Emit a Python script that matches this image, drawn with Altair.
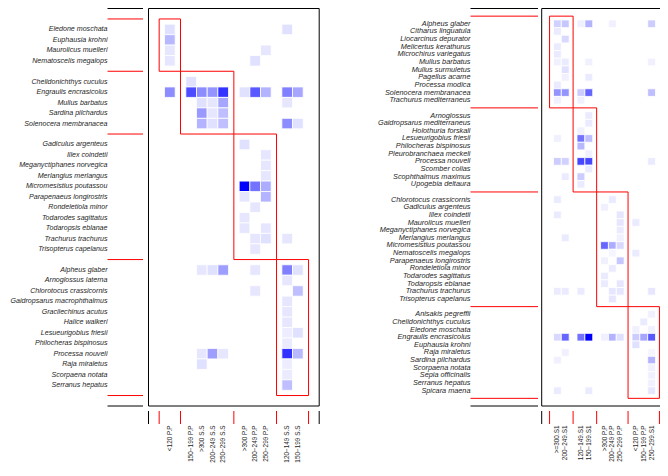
import altair as alt
import pandas as pd

# ---------------- data ----------------
left_row_groups = [
    ["Eledone moschata", "Euphausia krohni", "Maurolicus muelleri", "Nematoscelis megalops"],
    ["Chelidonichthys cuculus", "Engraulis encrasicolus", "Mullus barbatus", "Sardina pilchardus",
     "Solenocera membranacea"],
    ["Gadiculus argenteus", "Illex coindetii", "Meganyctiphanes norvegica", "Merlangius merlangus",
     "Micromesistius poutassou", "Parapenaeus longirostris", "Rondeletiola minor", "Todarodes sagittatus",
     "Todaropsis eblanae", "Trachurus trachurus", "Trisopterus capelanus"],
    ["Alpheus glaber", "Arnoglossus laterna", "Chlorotocus crassicornis", "Gaidropsarus macrophthalmus",
     "Gracilechinus acutus", "Halice walkeri", "Lesueurigobius friesii", "Philocheras bispinosus",
     "Processa nouveli", "Raja miraletus", "Scorpaena notata", "Serranus hepatus"],
]
left_col_groups = [
    ["<120 P.P"],
    ["150−199 P.P", ">300 S.S", "200−249 S.S", "250−299 S.S"],
    [">300 P.P", "200−249 P.P", "250−299 P.P"],
    ["120−149 S.S", "150−199 S.S"],
]
left_cells = [
    ("Eledone moschata", "<120 P.P", 0.12), ("Eledone moschata", "120−149 S.S", 0.12),
    ("Euphausia krohni", "<120 P.P", 0.28),
    ("Maurolicus muelleri", "<120 P.P", 0.1), ("Maurolicus muelleri", "250−299 P.P", 0.1),
    ("Nematoscelis megalops", "<120 P.P", 0.1), ("Nematoscelis megalops", "200−249 P.P", 0.12),
    ("Chelidonichthys cuculus", "150−199 P.P", 0.12),
    ("Engraulis encrasicolus", "<120 P.P", 0.45), ("Engraulis encrasicolus", "150−199 P.P", 0.7),
    ("Engraulis encrasicolus", ">300 S.S", 0.45), ("Engraulis encrasicolus", "200−249 S.S", 0.42),
    ("Engraulis encrasicolus", "250−299 S.S", 0.8), ("Engraulis encrasicolus", ">300 P.P", 0.12),
    ("Engraulis encrasicolus", "200−249 P.P", 0.65), ("Engraulis encrasicolus", "250−299 P.P", 0.3),
    ("Engraulis encrasicolus", "120−149 S.S", 0.5), ("Engraulis encrasicolus", "150−199 S.S", 0.35),
    ("Mullus barbatus", ">300 S.S", 0.12), ("Mullus barbatus", "200−249 S.S", 0.1),
    ("Mullus barbatus", "250−299 S.S", 0.35), ("Mullus barbatus", "120−149 S.S", 0.1),
    ("Sardina pilchardus", ">300 S.S", 0.4), ("Sardina pilchardus", "200−249 S.S", 0.1),
    ("Sardina pilchardus", "250−299 S.S", 0.25),
    ("Solenocera membranacea", ">300 S.S", 0.3), ("Solenocera membranacea", "200−249 S.S", 0.12),
    ("Solenocera membranacea", "250−299 S.S", 0.25), ("Solenocera membranacea", "120−149 S.S", 0.45),
    ("Solenocera membranacea", "150−199 S.S", 0.12),
    ("Gadiculus argenteus", ">300 P.P", 0.12),
    ("Illex coindetii", "250−299 P.P", 0.1),
    ("Meganyctiphanes norvegica", "250−299 P.P", 0.1),
    ("Merlangius merlangus", "250−299 P.P", 0.1),
    ("Micromesistius poutassou", ">300 P.P", 1.0), ("Micromesistius poutassou", "200−249 P.P", 0.55),
    ("Micromesistius poutassou", "250−299 P.P", 0.32),
    ("Parapenaeus longirostris", ">300 P.P", 0.1), ("Parapenaeus longirostris", "250−299 P.P", 0.3),
    ("Rondeletiola minor", "200−249 P.P", 0.1),
    ("Todarodes sagittatus", ">300 P.P", 0.1),
    ("Todaropsis eblanae", ">300 P.P", 0.1), ("Todaropsis eblanae", "250−299 P.P", 0.1),
    ("Trachurus trachurus", "200−249 P.P", 0.1), ("Trachurus trachurus", "250−299 P.P", 0.12),
    ("Trachurus trachurus", "120−149 S.S", 0.1),
    ("Trisopterus capelanus", "200−249 P.P", 0.1),
    ("Alpheus glaber", ">300 S.S", 0.1), ("Alpheus glaber", "200−249 S.S", 0.12),
    ("Alpheus glaber", "250−299 S.S", 0.38), ("Alpheus glaber", "200−249 P.P", 0.1),
    ("Alpheus glaber", "120−149 S.S", 0.5), ("Alpheus glaber", "150−199 S.S", 0.12),
    ("Arnoglossus laterna", "120−149 S.S", 0.1),
    ("Chlorotocus crassicornis", "200−249 P.P", 0.1), ("Chlorotocus crassicornis", "150−199 S.S", 0.25),
    ("Gaidropsarus macrophthalmus", "120−149 S.S", 0.1),
    ("Gracilechinus acutus", "120−149 S.S", 0.1),
    ("Halice walkeri", "120−149 S.S", 0.1),
    ("Lesueurigobius friesii", "120−149 S.S", 0.07), ("Lesueurigobius friesii", "150−199 S.S", 0.12),
    ("Philocheras bispinosus", "120−149 S.S", 0.08),
    ("Processa nouveli", ">300 S.S", 0.1), ("Processa nouveli", "200−249 S.S", 0.38),
    ("Processa nouveli", "250−299 S.S", 0.1), ("Processa nouveli", "120−149 S.S", 0.8),
    ("Processa nouveli", "150−199 S.S", 0.28),
    ("Raja miraletus", ">300 S.S", 0.12), ("Raja miraletus", "120−149 S.S", 0.07),
    ("Scorpaena notata", "120−149 S.S", 0.08),
    ("Serranus hepatus", "120−149 S.S", 0.25),
]

right_row_groups = [
    ["Alpheus glaber", "Citharus linguatula", "Liocarcinus depurator", "Melicertus kerathurus",
     "Microchirus variegatus", "Mullus barbatus", "Mullus surmuletus", "Pagellus acarne", "Processa modica",
     "Solenocera membranacea", "Trachurus mediterraneus"],
    ["Arnoglossus", "Gaidropsarus mediterraneus", "Holothuria forskali", "Lesueurigobius friesii",
     "Philocheras bispinosus", "Pleurobranchaea meckeli", "Processa nouveli", "Scomber colias",
     "Scophthalmus maximus", "Upogebia deltaura"],
    ["Chlorotocus crassicornis", "Gadiculus argenteus", "Illex coindetii", "Maurolicus muelleri",
     "Meganyctiphanes norvegica", "Merlangius merlangus", "Micromesistius poutassou", "Nematoscelis megalops",
     "Parapenaeus longirostris", "Rondeletiola minor", "Todarodes sagittatus", "Todaropsis eblanae",
     "Trachurus trachurus", "Trisopterus capelanus"],
    ["Anisakis pegreffii", "Chelidonichthys cuculus", "Eledone moschata", "Engraulis encrasicolus",
     "Euphausia krohni", "Raja miraletus", "Sardina pilchardus", "Scorpaena notata", "Sepia officinalis",
     "Serranus hepatus", "Spicara maena"],
]
right_col_groups = [
    [">=300.S1", "200−249.S1"],
    ["120−149.S1", "150−199.S1"],
    [">300 P.P", "200−249 P.P", "250−299 P.P"],
    ["<120 P.P", "150−199 P.P", "250−299.S1"],
]
right_cells = [
    ("Alpheus glaber", ">=300.S1", 0.18), ("Alpheus glaber", "200−249.S1", 0.22),
    ("Alpheus glaber", "120−149.S1", 0.06), ("Alpheus glaber", "150−199.S1", 0.3),
    ("Alpheus glaber", "200−249 P.P", 0.06), ("Alpheus glaber", "250−299.S1", 0.2),
    ("Citharus linguatula", ">=300.S1", 0.08),
    ("Liocarcinus depurator", "200−249.S1", 0.15),
    ("Melicertus kerathurus", ">=300.S1", 0.08),
    ("Microchirus variegatus", ">=300.S1", 0.08),
    ("Mullus barbatus", ">=300.S1", 0.06), ("Mullus barbatus", "200−249.S1", 0.08),
    ("Mullus barbatus", "150−199.S1", 0.06), ("Mullus barbatus", "250−299.S1", 0.06),
    ("Mullus surmuletus", "200−249.S1", 0.12),
    ("Pagellus acarne", "200−249.S1", 0.06), ("Pagellus acarne", "150−199.S1", 0.08),
    ("Processa modica", ">=300.S1", 0.08),
    ("Solenocera membranacea", ">=300.S1", 0.42), ("Solenocera membranacea", "200−249.S1", 0.42),
    ("Solenocera membranacea", "120−149.S1", 0.2), ("Solenocera membranacea", "150−199.S1", 0.6),
    ("Solenocera membranacea", "250−299.S1", 0.25),
    ("Trachurus mediterraneus", ">=300.S1", 0.06), ("Trachurus mediterraneus", "120−149.S1", 0.06),
    ("Arnoglossus", "150−199.S1", 0.08),
    ("Gaidropsarus mediterraneus", "150−199.S1", 0.08),
    ("Holothuria forskali", "120−149.S1", 0.06),
    ("Lesueurigobius friesii", ">=300.S1", 0.06), ("Lesueurigobius friesii", "120−149.S1", 0.55),
    ("Lesueurigobius friesii", "150−199.S1", 0.25),
    ("Philocheras bispinosus", "120−149.S1", 0.28),
    ("Pleurobranchaea meckeli", "150−199.S1", 0.06),
    ("Processa nouveli", ">=300.S1", 0.2), ("Processa nouveli", "200−249.S1", 0.18),
    ("Processa nouveli", "120−149.S1", 0.72), ("Processa nouveli", "150−199.S1", 0.72),
    ("Processa nouveli", "250−299.S1", 0.08),
    ("Scomber colias", "150−199.S1", 0.08),
    ("Scophthalmus maximus", "200−249.S1", 0.08), ("Scophthalmus maximus", "120−149.S1", 0.2),
    ("Upogebia deltaura", "120−149.S1", 0.08),
    ("Chlorotocus crassicornis", ">=300.S1", 0.08), ("Chlorotocus crassicornis", "200−249 P.P", 0.08),
    ("Gadiculus argenteus", ">300 P.P", 0.06),
    ("Illex coindetii", ">=300.S1", 0.08), ("Illex coindetii", "250−299 P.P", 0.1),
    ("Maurolicus muelleri", "250−299 P.P", 0.1), ("Maurolicus muelleri", "<120 P.P", 0.08),
    ("Meganyctiphanes norvegica", "250−299 P.P", 0.08),
    ("Merlangius merlangus", "200−249.S1", 0.08), ("Merlangius merlangus", "250−299 P.P", 0.06),
    ("Micromesistius poutassou", ">300 P.P", 0.6), ("Micromesistius poutassou", "200−249 P.P", 0.32),
    ("Micromesistius poutassou", "250−299 P.P", 0.15),
    ("Nematoscelis megalops", "200−249 P.P", 0.04), ("Nematoscelis megalops", "<120 P.P", 0.08),
    ("Parapenaeus longirostris", ">300 P.P", 0.06), ("Parapenaeus longirostris", "250−299 P.P", 0.22),
    ("Rondeletiola minor", "200−249 P.P", 0.08),
    ("Todarodes sagittatus", ">300 P.P", 0.08),
    ("Todaropsis eblanae", ">300 P.P", 0.08), ("Todaropsis eblanae", "250−299 P.P", 0.1),
    ("Trachurus trachurus", ">=300.S1", 0.08), ("Trachurus trachurus", "200−249.S1", 0.08),
    ("Trachurus trachurus", "120−149.S1", 0.08), ("Trachurus trachurus", "200−249 P.P", 0.1),
    ("Trachurus trachurus", "250−299 P.P", 0.1), ("Trachurus trachurus", "250−299.S1", 0.1),
    ("Trisopterus capelanus", "200−249 P.P", 0.1),
    ("Anisakis pegreffii", "250−299.S1", 0.06),
    ("Chelidonichthys cuculus", "150−199 P.P", 0.08),
    ("Eledone moschata", "<120 P.P", 0.06), ("Eledone moschata", "250−299.S1", 0.06),
    ("Engraulis encrasicolus", ">=300.S1", 0.15), ("Engraulis encrasicolus", "200−249.S1", 0.6),
    ("Engraulis encrasicolus", "120−149.S1", 0.55), ("Engraulis encrasicolus", "150−199.S1", 1.0),
    ("Engraulis encrasicolus", ">300 P.P", 0.06), ("Engraulis encrasicolus", "200−249 P.P", 0.3),
    ("Engraulis encrasicolus", "250−299 P.P", 0.12), ("Engraulis encrasicolus", "<120 P.P", 0.2),
    ("Engraulis encrasicolus", "150−199 P.P", 0.35), ("Engraulis encrasicolus", "250−299.S1", 0.65),
    ("Euphausia krohni", "<120 P.P", 0.12),
    ("Raja miraletus", "200−249.S1", 0.06), ("Raja miraletus", "250−299.S1", 0.04),
    ("Sardina pilchardus", ">=300.S1", 0.06), ("Sardina pilchardus", "250−299.S1", 0.3),
    ("Scorpaena notata", "250−299.S1", 0.06),
    ("Sepia officinalis", "250−299.S1", 0.06),
    ("Serranus hepatus", "250−299.S1", 0.06),
    ("Spicara maena", ">=300.S1", 0.08), ("Spicara maena", "150−199.S1", 0.08),
    ("Spicara maena", "250−299.S1", 0.1),
]


# ---------------- helpers ----------------
def layout(groups):
    """Ordinal positions with one blank separator slot around each group."""
    pos, seps = {}, [1]
    i = 1
    for g in groups:
        for name in g:
            i += 1
            pos[name] = i
        i += 1
        seps.append(i)
    return pos, seps, i + 1


FONT = "Liberation Sans"
W, H = 652, 455          # whole drawing area (single view, no autosize)
TOP, BOTTOM = 0.5, 398   # frame top / bottom of both heat maps
TICK_Y1, TICK_Y2, XLAB_Y = 403, 416, 417.5
COLOR = alt.Scale(domain=[0, 1], range=["#ffffff", "#0000ff"], interpolate="rgb")


def panel(row_groups, col_groups, cells, x_range, lab_x, line_x2, lab_size):
    rpos, rseps, rend = layout(row_groups)
    cpos, cseps, cend = layout(col_groups)
    xs = alt.Scale(domain=[0, cend], range=x_range, nice=False, zero=False)
    ys = alt.Scale(domain=[0, rend], range=[TOP, BOTTOM], nice=False, zero=False)

    def X(f):
        return alt.X(f, scale=xs, axis=None)

    def Y(f):
        return alt.Y(f, scale=ys, axis=None)

    cell_df = pd.DataFrame(
        [{"x0": cpos[c] - 0.5, "x1": cpos[c] + 0.5, "y0": rpos[s] - 0.5, "y1": rpos[s] + 0.5, "v": v}
         for s, c, v in cells])
    rects = alt.Chart(cell_df).mark_rect(stroke="white", strokeWidth=0.8).encode(
        x=X("x0:Q"), x2="x1", y=Y("y0:Q"), y2="y1",
        color=alt.Color("v:Q", scale=COLOR, legend=None),
    )

    box_df = pd.DataFrame([{"x0": cseps[k], "x1": cseps[k + 1], "y0": rseps[k], "y1": rseps[k + 1]}
                           for k in range(len(row_groups))])
    boxes = alt.Chart(box_df).mark_rect(fillOpacity=0, stroke="red", strokeWidth=1).encode(
        x=X("x0:Q"), x2="x1", y=Y("y0:Q"), y2="y1",
    )

    frame_df = pd.DataFrame([{"x0": 0, "x1": cend, "y0": 0, "y1": rend}])
    frame = alt.Chart(frame_df).mark_rect(fillOpacity=0, stroke="black", strokeWidth=1).encode(
        x=X("x0:Q"), x2="x1", y=Y("y0:Q"), y2="y1",
    )

    rl_df = pd.DataFrame([{"name": n, "y": p} for n, p in rpos.items()])
    row_labels = alt.Chart(rl_df).mark_text(
        align="right", baseline="middle", font=FONT, fontStyle="italic", fontSize=lab_size, color="#262626"
    ).encode(x=alt.value(lab_x), y=Y("y:Q"), text="name:N")

    hl_df = pd.DataFrame([{"y": 0, "c": "black"}] + [{"y": s, "c": "red"} for s in rseps]
                         + [{"y": rend, "c": "black"}])
    hlines = alt.Chart(hl_df).mark_rule(strokeWidth=1).encode(
        x=alt.value(lab_x), x2=alt.value(line_x2), y=Y("y:Q"), color=alt.Color("c:N", scale=None),
    )

    vt_df = pd.DataFrame([{"x": 0, "c": "black"}] + [{"x": s, "c": "red"} for s in cseps]
                         + [{"x": cend, "c": "black"}])
    vticks = alt.Chart(vt_df).mark_rule(strokeWidth=1).encode(
        x=X("x:Q"), y=alt.value(TICK_Y1), y2=alt.value(TICK_Y2), color=alt.Color("c:N", scale=None),
    )

    cl_df = pd.DataFrame([{"name": n, "x": p} for n, p in cpos.items()])
    col_labels = alt.Chart(cl_df).mark_text(
        angle=270, align="right", baseline="middle", font=FONT, fontSize=6.4, color="#262626"
    ).encode(x=X("x:Q"), y=alt.value(XLAB_Y), text="name:N")

    return [rects, boxes, frame, row_labels, hlines, vticks, col_labels]


left_layers = panel(left_row_groups, left_col_groups, left_cells, [140.5, 311.2], 99.5, 135, 7.1)
right_layers = panel(right_row_groups, right_col_groups, right_cells, [533.7, 659.3], 462.5, 530, 7.3)

chart = (
    alt.layer(*left_layers, *right_layers)
    .resolve_scale(x="independent", y="independent")
    .properties(width=W, height=H, padding=0, autosize=alt.AutoSizeParams(type="none"))
    .configure(background="white")
    .configure_view(stroke=None)
)

chart.save("out.html", embed_options={"renderer": "svg", "actions": False})
